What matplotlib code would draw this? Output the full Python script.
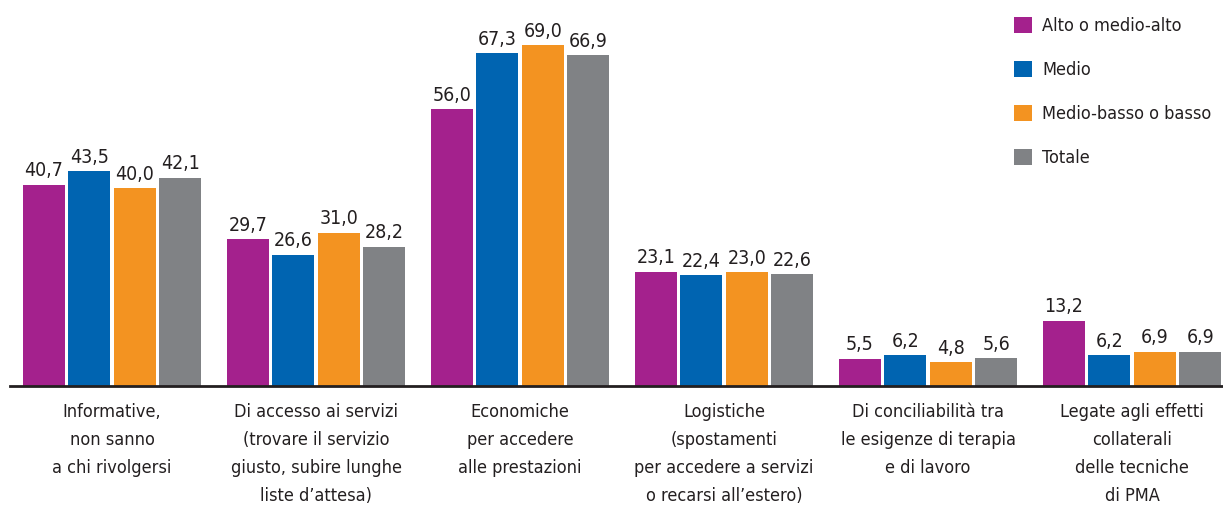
import numpy as np
import matplotlib.pyplot as plt
from matplotlib.patches import Patch

plt.rcParams['font.family'] = ['DejaVu Sans']
plt.rcParams['font.stretch'] = 'condensed'

categories = [
    "Informative,\nnon sanno\na chi rivolgersi",
    "Di accesso ai servizi\n(trovare il servizio\ngiusto, subire lunghe\nliste d\u2019attesa)",
    "Economiche\nper accedere\nalle prestazioni",
    "Logistiche\n(spostamenti\nper accedere a servizi\no recarsi all\u2019estero)",
    "Di conciliabilit\u00e0 tra\nle esigenze di terapia\ne di lavoro",
    "Legate agli effetti\ncollaterali\ndelle tecniche\ndi PMA",
]
series_names = ["Alto o medio-alto", "Medio", "Medio-basso o basso", "Totale"]
alto = [40.7, 29.7, 56.0, 23.1, 5.5, 13.2]
medio = [43.5, 26.6, 67.3, 22.4, 6.2, 6.2]
basso = [40.0, 31.0, 69.0, 23.0, 4.8, 6.9]
totale = [42.1, 28.2, 66.9, 22.6, 5.6, 6.9]

colors = ["#A4218D", "#0064B1", "#F39321", "#808285"]

fig = plt.figure(figsize=(12.23, 5.09), dpi=100)
ax = fig.add_axes([10 / 1223, 123 / 509, 1 - 10 / 1223, 1 - 123 / 509])

x = np.arange(len(categories))
step = 0.223
width = 0.206
for i, (vals, col) in enumerate(zip([alto, medio, basso, totale], colors)):
    pos = x + (i - 1.5) * step
    ax.bar(pos, vals, width=width, color=col, zorder=2)
    for p, v in zip(pos, vals):
        ax.text(p, v + 0.9, f"{v:.1f}".replace(".", ","), ha="center", va="bottom",
                fontsize=14, color="#231F20")

ax.set_xlim(-0.5, 5.445)
ax.set_ylim(0, 78.1)
for s in ["top", "right", "left"]:
    ax.spines[s].set_visible(False)
ax.spines["bottom"].set_linewidth(2)
ax.spines["bottom"].set_color("#231F20")
ax.set_yticks([])
ax.set_xticks(x)
ax.set_xticklabels(categories, fontsize=13, color="#231F20", linespacing=1.72)
ax.tick_params(axis="x", length=0, pad=12)

handles = [Patch(facecolor=c, edgecolor="none") for c in colors]
fig.legend(handles, series_names, loc="upper left",
           bbox_to_anchor=(1005 / 1223, 1 - 8 / 509), frameon=False,
           fontsize=13, handlelength=1.0, handleheight=1.0,
           handletextpad=0.55, labelspacing=1.42, borderpad=0,
           labelcolor="#231F20")

fig.savefig("out.png", dpi=100)
